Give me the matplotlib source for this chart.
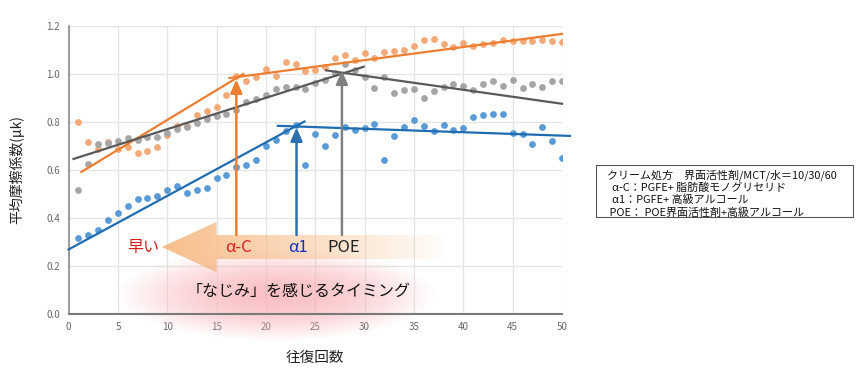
import numpy as np
import matplotlib
matplotlib.use("Agg")
import matplotlib.pyplot as plt
from matplotlib.patches import Polygon, Rectangle

plt.rcParams['font.family'] = ['Noto Sans CJK JP', 'DejaVu Sans']

# 往復回数
strokes = list(range(1, 51))

# 平均摩擦係数 for each cream
alpha_c = [0.800, 0.713, 0.684, 0.713, 0.684, 0.692, 0.667, 0.677, 0.692, 0.744,
           0.783, 0.783, 0.827, 0.845, 0.862, 0.910, 0.991, 0.970, 0.987, 1.017,
           0.991, 1.049, 1.038, 1.010, 1.013, 1.027, 1.065, 1.076, 1.055, 1.084,
           1.065, 1.090, 1.094, 1.099, 1.116, 1.141, 1.142, 1.123, 1.110, 1.127,
           1.113, 1.123, 1.126, 1.141, 1.134, 1.134, 1.137, 1.141, 1.137, 1.130]
poe = [0.515, 0.625, 0.705, 0.712, 0.717, 0.731, 0.724, 0.737, 0.736, 0.752,
       0.770, 0.779, 0.795, 0.811, 0.824, 0.832, 0.849, 0.883, 0.892, 0.910,
       0.935, 0.945, 0.945, 0.935, 0.961, 0.973, 1.002, 1.040, 1.016, 0.987,
       0.940, 0.984, 0.917, 0.930, 0.937, 0.900, 0.926, 0.942, 0.956, 0.950,
       0.930, 0.956, 0.967, 0.949, 0.971, 0.940, 0.958, 0.942, 0.967, 0.967]
alpha_1 = [0.315, 0.329, 0.347, 0.390, 0.419, 0.449, 0.476, 0.481, 0.491, 0.513,
           0.532, 0.502, 0.513, 0.523, 0.565, 0.576, 0.610, 0.620, 0.640, 0.696,
           0.724, 0.762, 0.786, 0.617, 0.746, 0.700, 0.745, 0.777, 0.764, 0.772,
           0.790, 0.640, 0.741, 0.777, 0.808, 0.780, 0.759, 0.786, 0.766, 0.773,
           0.817, 0.826, 0.831, 0.831, 0.751, 0.748, 0.705, 0.776, 0.720, 0.650]

# hand drawn trend segments ((x0, x1), (y0, y1))
alpha_c_lines = [((1.3, 17.7), (0.590, 0.998)), ((16.3, 50.0), (0.981, 1.165))]
poe_lines = [((0.5, 29.9), (0.644, 1.028)), ((26.1, 50.0), (1.013, 0.874))]
alpha_1_lines = [((0.0, 23.9), (0.267, 0.800)), ((21.2, 50.8), (0.782, 0.740))]

# timing arrows: x position, tip height
timing_x = [17.0, 23.1, 27.7]
timing_tip = [0.975, 0.775, 1.012]
timing_names = ['α-C', 'α1', 'POE']
timing_colors = ['#d81e1e', '#1a2fc0', '#222222']
arrow_colors = ['#ed7d31', '#2e6fae', '#808080']

legend_lines = ['クリーム処方　界面活性剤/MCT/水＝10/30/60',
                '  α-C：PGFE+ 脂肪酸モノグリセリド',
                '  α1：PGFE+ 高級アルコール',
                ' POE： POE界面活性剤+高級アルコール']

fig = plt.figure(figsize=(8.6, 3.68), dpi=100)
ax = fig.add_axes([0.0797, 0.148, 0.5738, 0.7827])
ax.set_xlim(0, 50)
ax.set_ylim(0, 1.2)

# pink glow behind the timing text
gx = np.linspace(-1, 1, 200)
gy = np.linspace(-1, 1, 100)
GX, GY = np.meshgrid(gx, gy)
r = np.clip(1 - (GX ** 2 + GY ** 2), 0, 1)
glow = np.zeros((100, 200, 4))
glow[..., 0] = 0.98
glow[..., 1] = 0.70
glow[..., 2] = 0.72
glow[..., 3] = r ** 1.2 * 0.8
ax.imshow(glow, extent=(4.5, 37.5, -0.12, 0.27), aspect='auto', zorder=1,
          clip_on=False, interpolation='bilinear')

# big left-pointing arrow with a fading gradient
head_x, neck_x, tail_x = 9.45, 15.0, 38.5
y_mid = 0.277
arrow_poly = [(head_x, y_mid), (neck_x, 0.382), (neck_x, 0.327), (tail_x, 0.327),
              (tail_x, 0.227), (neck_x, 0.227), (neck_x, 0.172)]
poly = Polygon(arrow_poly, closed=True, facecolor='none', edgecolor='none')
ax.add_patch(poly)
ramp = np.linspace(0, 1, 300)
grad = np.zeros((2, 300, 4))
grad[..., 0] = 0.97
grad[..., 1] = 0.72
grad[..., 2] = 0.50
grad[..., 3] = np.clip(1 - ramp, 0, 1) ** 0.9 * 0.9
im = ax.imshow(grad, extent=(head_x, tail_x, 0.17, 0.385), aspect='auto', zorder=2,
               interpolation='bilinear')
im.set_clip_path(poly)

ax.set_xlim(0, 50)
ax.set_ylim(0, 1.2)

# scatter points
ax.scatter(strokes, alpha_c, s=24, color='#f4aa78', zorder=3, linewidths=0)
ax.scatter(strokes, poe, s=24, color='#a5a5a5', zorder=3, linewidths=0)
ax.scatter(strokes, alpha_1, s=24, color='#5b9bd5', zorder=3, linewidths=0)

for xs, ys in alpha_c_lines:
    ax.plot(xs, ys, color='#ed7d31', lw=1.6, zorder=4, clip_on=False)
for xs, ys in poe_lines:
    ax.plot(xs, ys, color='#595959', lw=1.6, zorder=4, clip_on=False)
for xs, ys in alpha_1_lines:
    ax.plot(xs, ys, color='#1f6cb0', lw=1.6, zorder=4, clip_on=False)

for x, tip, c in zip(timing_x, timing_tip, arrow_colors):
    ax.annotate('', xy=(x, tip), xytext=(x, 0.327), zorder=5,
                arrowprops=dict(arrowstyle='-|>,head_width=0.35,head_length=0.8',
                                color=c, lw=1.8, shrinkA=0, shrinkB=0))

for x, name, c in zip(timing_x, timing_names, timing_colors):
    ax.text(x + 0.2, 0.277, name, color=c, fontsize=12, ha='center', va='center', zorder=6)
ax.text(7.6, 0.277, '早い', color='#d81e1e', fontsize=11.5, ha='center', va='center', zorder=6)
ax.text(23.3, 0.092, '「なじみ」を感じるタイミング', color='#111111', fontsize=11.5,
        ha='center', va='center', zorder=6)

# axes styling
ax.set_xticks(range(0, 51, 5))
ax.set_yticks(np.arange(0, 1.21, 0.2))
ax.set_yticklabels([f'{v:.1f}' for v in np.arange(0, 1.21, 0.2)])
ax.grid(True, color='#e4e4e4', lw=0.9, zorder=0)
ax.set_axisbelow(True)
for side in ['top', 'right']:
    ax.spines[side].set_visible(False)
ax.spines['left'].set_color('#8c8c8c')
ax.spines['bottom'].set_color('#7a7a7a')
ax.spines['left'].set_linewidth(1.2)
ax.spines['bottom'].set_linewidth(1.5)
ax.tick_params(length=0, labelsize=7, labelcolor='#666666', pad=6)
ax.set_xlabel('往復回数', fontsize=10.5, labelpad=14, color='#222222')
ax.set_ylabel('平均摩擦係数(μk)', fontsize=10, labelpad=16, color='#222222')

# formula box
fig.patches.append(Rectangle((596 / 860, 1 - 217 / 368), 257 / 860, 52 / 368,
                             transform=fig.transFigure, facecolor='white',
                             edgecolor='#555555', lw=0.8))
for i, line in enumerate(legend_lines):
    fig.text(607 / 860, 1 - (175 + 12.5 * i) / 368, line, fontsize=7.9,
             color='#111111', va='center', ha='left')

fig.savefig('out.png', dpi=100)
